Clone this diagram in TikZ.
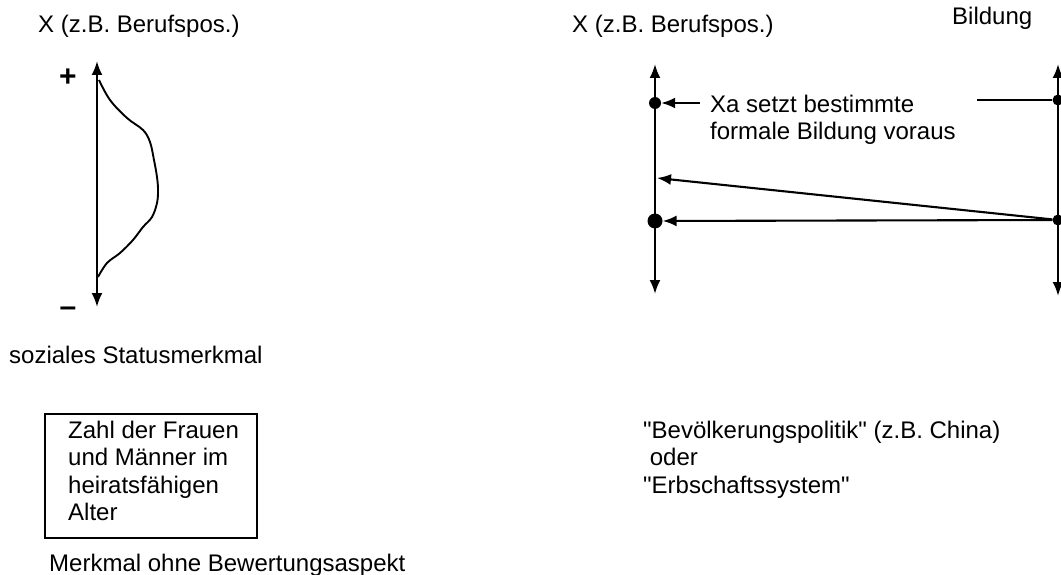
\documentclass[tikz,border=0pt]{standalone}
\usepackage{fontspec}
\setmainfont{Liberation Sans}[Ligatures=TeXOff]
\usetikzlibrary{arrows.meta}
\begin{document}
\begin{tikzpicture}[x=1pt,y=-1pt,
  lbl/.style={font=\fontsize{24}{27.5}\selectfont, inner sep=0pt, anchor=base west, align=left},
  sign/.style={font=\fontsize{30}{32}\selectfont\bfseries, inner sep=0pt, anchor=base},
  axis/.style={line width=2.3pt, {Latex[length=14pt,width=11pt]}-{Latex[length=14pt,width=11pt]}},
  conn/.style={line width=2.1pt, -{Latex[length=14pt,width=11pt]}},
  plain/.style={line width=2.1pt},
  dot/.style={circle, fill=black, inner sep=0pt, minimum size=#1},
  boxst/.style={draw, line width=1.6pt, inner sep=0pt, anchor=north west, minimum width=212pt, minimum height=124pt}]
\useasboundingbox (0,0) rectangle (1061,575);

% ---- left figure ----
\node[lbl] (tl) at (38,33) {X (z.B. Berufspos.)};
\coordinate (la1) at (97,61);
\coordinate (la2) at (97,307);
\draw[axis] (la2) -- (la1);
\draw[line width=1.9pt, line join=round] plot[smooth, tension=0.6] coordinates {
 (99,80) (110,100) (127,118) (143,130) (150,142) (154,160) (157,177) (158,190)
 (157,203) (152,217) (143,227) (133,240) (120,253) (107,263) (98,277)};
\node[sign] (plus) at (68,87) {+};
\node[sign] (minus) at (68,316) {–};
\node[lbl] (soz) at (9,363) {soziales Statusmerkmal};

\node[boxst] (box) at (44,413) {};
\node[lbl] (boxtxt) at (68,520.5) {Zahl der Frauen\\und Männer im\\heiratsfähigen\\Alter};
\node[lbl] (ohne) at (49,571) {Merkmal ohne Bewertungsaspekt};

% ---- right figure ----
\node[lbl] (tr) at (572,33) {X (z.B. Berufspos.)};
\node[lbl] (bild) at (952,25) {Bildung};
\coordinate (ra1) at (655,64);
\coordinate (ra2) at (655,294);
\coordinate (rb1) at (1058,64);
\coordinate (rb2) at (1058,296);
\draw[axis] (ra2) -- (ra1);
\draw[axis] (rb2) -- (rb1);
\node[dot=12pt] (d1) at (655,103) {};
\node[dot=15pt] (d2) at (655,221) {};
\node[dot=11pt] (e1) at (1058,100) {};
\node[dot=11pt] (e2) at (1058,220) {};
\coordinate (s1) at (700,103);
\coordinate (s2) at (977,100);
\coordinate (t) at (657,178);
\draw[conn] (s1) -- (d1);
\draw[plain] (s2) -- (e1);
\draw[conn] (e2) -- (t);
\draw[conn] (e2) -- (d2);
\node[lbl] (xa) at (710,139.5) {Xa setzt bestimmte\\formale Bildung voraus};

\node[lbl] (bev) at (643,493) {"Bevölkerungspolitik" (z.B. China)\\\hspace*{0.278em}oder\\"Erbschaftssystem"};
\end{tikzpicture}
\end{document}
